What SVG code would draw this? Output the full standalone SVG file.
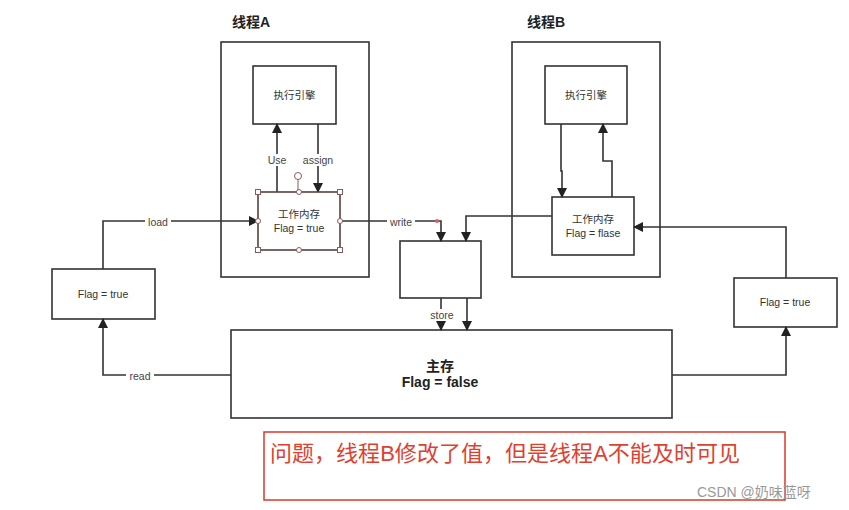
<svg xmlns="http://www.w3.org/2000/svg" width="849" height="510" viewBox="0 0 849 510">
<defs>
<marker id="ah" markerWidth="10" markerHeight="10" refX="9" refY="5" orient="auto" markerUnits="userSpaceOnUse"><path d="M0,0 L10,5 L0,10 Z" fill="#222"/></marker>
<style>
.b{fill:#fff;stroke:#333;stroke-width:1.6}
.t{font-family:"Liberation Sans","Noto Sans CJK SC",sans-serif;font-size:10.5px;fill:#333;text-anchor:middle}
.h{font-family:"Liberation Sans","Noto Sans CJK SC",sans-serif;font-size:14px;font-weight:bold;fill:#222}
.c{fill:none;stroke:#333;stroke-width:1.6;marker-end:url(#ah)}
.l{font-family:"Liberation Sans","Noto Sans CJK SC",sans-serif;font-size:10.5px;fill:#444;text-anchor:middle}
.hd{fill:#fff;stroke:#8b5a5a;stroke-width:1}
</style>
</defs>
<rect width="849" height="510" fill="#fff"/>
<g id="threadA"><text class="h" x="232" y="27">线程A</text><rect class="b" x="221" y="42" width="148" height="235"/></g>
<g id="threadB"><text class="h" x="527" y="27">线程B</text><rect class="b" x="512" y="42" width="148" height="235"/></g>
<g id="engineA"><rect class="b" x="253" y="66" width="83" height="58"/><text class="t" x="294.5" y="99">执行引擎</text></g>
<g id="engineB"><rect class="b" x="545" y="66" width="82" height="58"/><text class="t" x="586" y="99">执行引擎</text></g>
<g id="memB"><rect class="b" x="552" y="197" width="82" height="58"/><text class="t" x="593" y="223">工作内存</text><text class="t" x="593" y="237">Flag = flase</text></g>
<g id="mid"><rect class="b" x="400" y="241" width="81" height="57"/></g>
<g id="main"><rect class="b" x="231" y="330" width="441" height="88"/><text class="h" x="440" y="371" text-anchor="middle" font-size="12">主存</text><text class="h" x="440" y="387" text-anchor="middle" font-size="12">Flag = false</text></g>
<g id="flagL"><rect class="b" x="52" y="269" width="103" height="50"/><text class="t" x="103" y="298">Flag = true</text></g>
<g id="flagR"><rect class="b" x="734" y="278" width="103" height="49"/><text class="t" x="785" y="306">Flag = true</text></g>
<g id="connectors">
<path class="c" d="M277,192 V124"/>
<path class="c" d="M318,124 V192"/>
<path class="c" d="M103,269 V221 H258"/>
<path class="c" d="M340,221 H441 V241"/>
<path class="c" d="M552,216 H466 V241"/>
<path class="c" d="M441,298 V330"/>
<path class="c" d="M467,298 V330"/>
<path class="c" d="M231,375 H103 V319"/>
<path class="c" d="M672,375 H786 V327"/>
<path class="c" d="M786,278 V227 H634"/>
<path class="c" d="M561,124 V171 H562 V197"/>
<path class="c" d="M612,197 V161 H603 V124"/>
<rect x="266" y="154" width="22" height="12" fill="#fff"/><text class="l" x="277" y="164">Use</text>
<rect x="301" y="154" width="34" height="12" fill="#fff"/><text class="l" x="318" y="164">assign</text>
<rect x="145" y="216" width="26" height="12" fill="#fff"/><text class="l" x="158" y="226">load</text>
<rect x="387" y="216" width="28" height="12" fill="#fff"/><text class="l" x="401" y="226">write</text>
<rect x="427" y="309" width="30" height="12" fill="#fff"/><text class="l" x="442" y="319">store</text>
<rect x="126" y="370" width="28" height="12" fill="#fff"/><text class="l" x="140" y="380">read</text>
<circle cx="437" cy="221" r="2" fill="#e06060"/>
</g>
<g id="memA"><rect x="258" y="192" width="82" height="58" fill="#fff" stroke="#5a4040" stroke-width="1.6"/><text class="t" x="299" y="218">工作内存</text><text class="t" x="299" y="232">Flag = true</text>
<line x1="298" y1="180" x2="298" y2="192" stroke="#8b5a5a"/>
<circle class="hd" cx="298" cy="176" r="3.5"/>
<rect class="hd" x="255.5" y="189.5" width="5" height="5"/><rect class="hd" x="337.5" y="189.5" width="5" height="5"/>
<rect class="hd" x="255.5" y="247.5" width="5" height="5"/><rect class="hd" x="337.5" y="247.5" width="5" height="5"/>
<circle class="hd" cx="299" cy="192" r="2.5"/><circle class="hd" cx="299" cy="250" r="2.5"/>
<circle class="hd" cx="258" cy="221" r="2.5"/><circle class="hd" cx="340" cy="221" r="2.5"/></g>
<g id="note"><rect x="264" y="432" width="521" height="68" fill="none" stroke="#d9382a" stroke-width="1.5"/>
<text x="270" y="461" font-family="Liberation Sans,Noto Sans CJK SC,sans-serif" font-size="22" fill="#e0412f" textLength="470">问题，线程B修改了值，但是线程A不能及时可见</text></g>
<text x="697" y="497" font-family="Liberation Sans,Noto Sans CJK SC,sans-serif" font-size="14" fill="#999">CSDN @奶味蓝呀</text>
</svg>
